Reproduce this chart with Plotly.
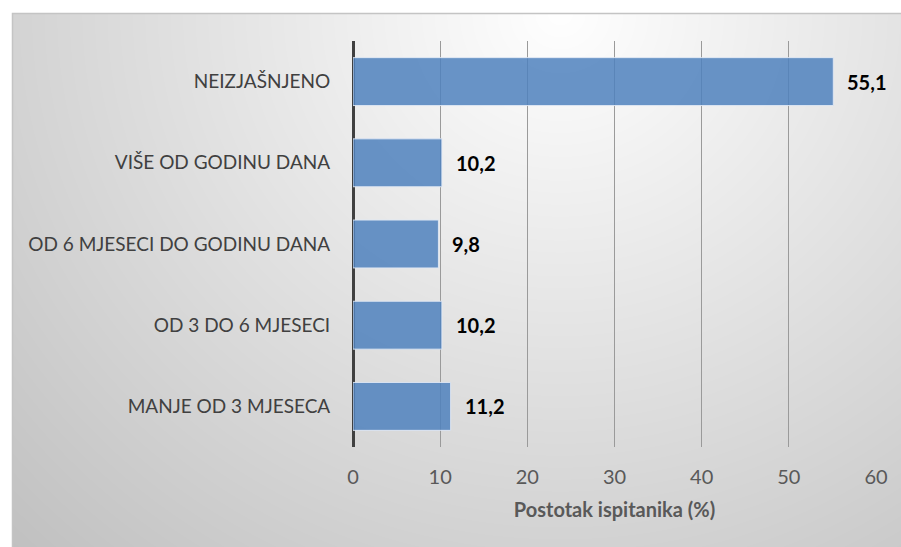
import base64, struct, zlib
import numpy as np
import plotly.graph_objects as go

categories = ["MANJE OD 3 MJESECA", "OD 3 DO 6 MJESECI", "OD 6 MJESECI DO GODINU DANA",
              "VIŠE OD GODINU DANA", "NEIZJAŠNJENO"]
values = [11.2, 10.2, 9.8, 10.2, 55.1]
x_ticks = [0, 10, 20, 30, 40, 50, 60]
x_title = "Postotak ispitanika (%)"

W, H = 901, 547
L, R, T, B = 353, 25, 41, 100
PW, PH = W - L - R, H - T - B

# background gradient image (chart area box from (12,13) to page edge)
bx0, by0 = 12, 13
bw, bh = W - bx0, H - by0
yy, xx = np.mgrid[0:bh, 0:bw].astype(float)
cx, cy = 560 - bx0, 0
d = np.sqrt(((xx - cx) / 1.0) ** 2 + ((yy - cy) / 0.95) ** 2)
g = 255 - 62 * np.clip(d / 780, 0, 1.2)
arr = np.clip(g, 0, 255).astype(np.uint8)

def png_gray(a):
    h, w = a.shape
    raw = b"".join(b"\x00" + a[i].tobytes() for i in range(h))
    def chunk(t, data):
        c = struct.pack(">I", len(data)) + t + data
        return c + struct.pack(">I", zlib.crc32(t + data) & 0xffffffff)
    return (b"\x89PNG\r\n\x1a\n" + chunk(b"IHDR", struct.pack(">IIBBBBB", w, h, 8, 0, 0, 0, 0))
            + chunk(b"IDAT", zlib.compress(raw, 9)) + chunk(b"IEND", b""))

src = "data:image/png;base64," + base64.b64encode(png_gray(arr)).decode()

def px_to_paper_x(px):
    return (px - L) / PW

def px_to_paper_y(py):
    return (H - B - py) / PH

fig = go.Figure()
fig.add_trace(go.Bar(
    x=values, y=categories, orientation="h",
    marker=dict(color="rgba(79,129,189,0.85)", line=dict(color="rgba(225,233,245,0.9)", width=1)),
    width=0.59, hoverinfo="skip",
))

for v, c in zip(values, categories):
    fig.add_annotation(x=v, y=c, xref="x", yref="y", text=f"{v:.1f}".replace(".", ","),
                       showarrow=False, xanchor="left", xshift=12,
                       font=dict(family="Lato", size=20, color="#000000", weight="bold"))

fig.add_layout_image(dict(source=src, xref="paper", yref="paper",
                          x=px_to_paper_x(bx0), y=px_to_paper_y(by0),
                          sizex=bw / PW, sizey=bh / PH, xanchor="left", yanchor="top",
                          sizing="stretch", layer="below"))

fig.add_shape(type="rect", xref="paper", yref="paper",
              x0=px_to_paper_x(bx0 + 0.5), y0=px_to_paper_y(H + 5),
              x1=px_to_paper_x(W + 5), y1=px_to_paper_y(by0 + 0.5),
              line=dict(color="#c4c4c4", width=1.5), layer="below")

fig.update_layout(
    width=W, height=H,
    margin=dict(l=L, r=R, t=T, b=B),
    paper_bgcolor="white", plot_bgcolor="rgba(0,0,0,0)",
    showlegend=False,
    font=dict(family="Lato", color="#404040"),
    xaxis=dict(range=[0, 60], tickvals=x_ticks, showgrid=True, gridcolor="#9a9a9a", gridwidth=1,
               zeroline=True, zerolinecolor="#404040", zerolinewidth=3,
               ticks="outside", ticklen=12, tickcolor="rgba(0,0,0,0)",
               tickfont=dict(size=20, color="#595959"),
               title=dict(text=x_title, standoff=15,
                          font=dict(size=20, color="#595959", weight="bold")),
               fixedrange=True),
    yaxis=dict(showgrid=False, zeroline=False, showline=False,
               ticks="outside", ticklen=18, tickcolor="rgba(0,0,0,0)",
               tickfont=dict(size=19, color="#404040"), fixedrange=True),
    bargap=0.41,
)

fig.write_html("out.html", config={"displayModeBar": False},
               post_script="document.body.style.margin='0px';")
